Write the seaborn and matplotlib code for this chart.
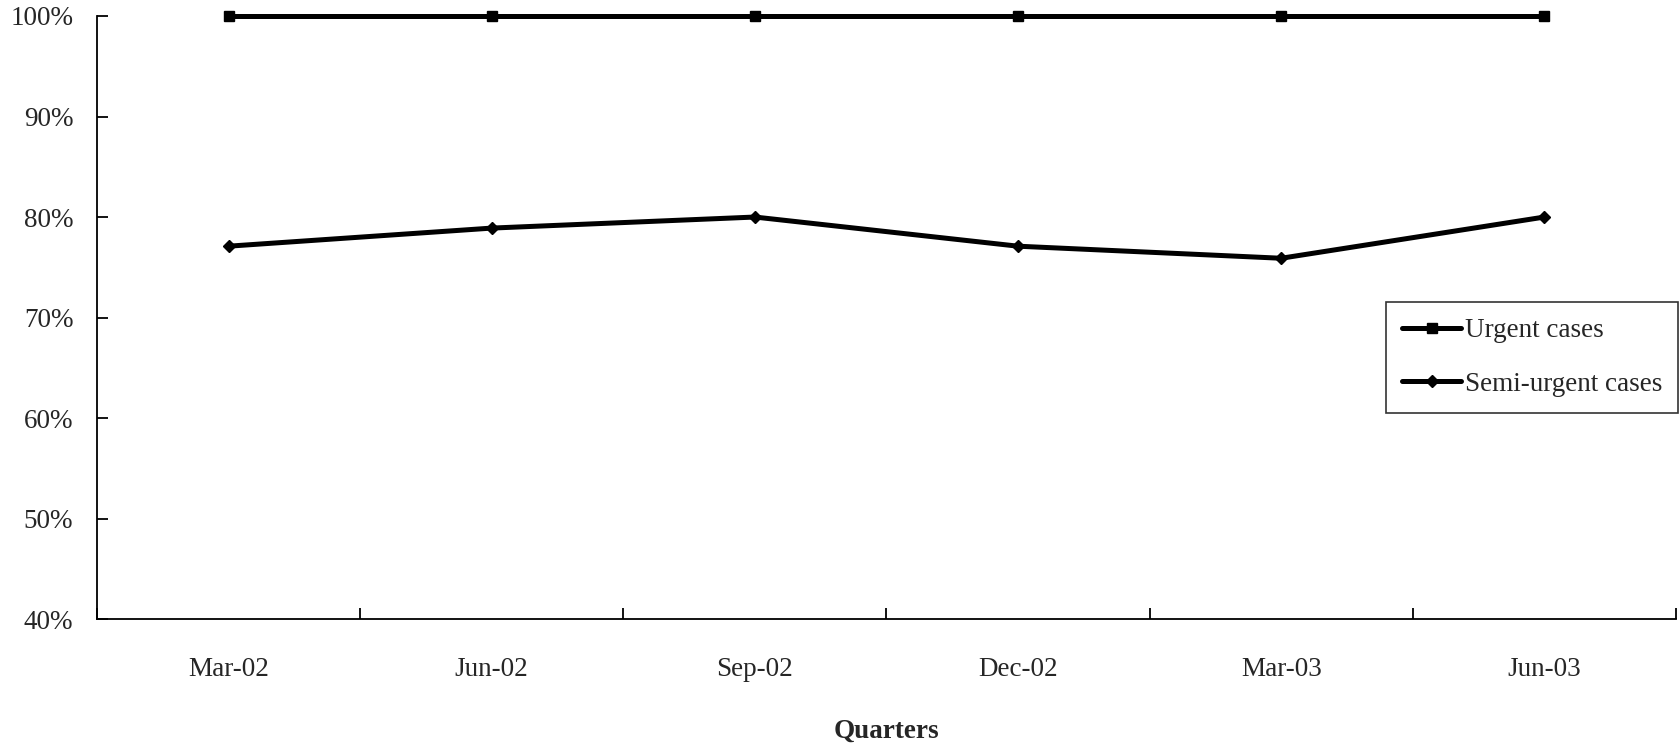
import pandas as pd
import matplotlib.pyplot as plt
import seaborn as sns
from matplotlib.ticker import FuncFormatter, FixedLocator

# Data (percent)
quarters = ['Mar-02', 'Jun-02', 'Sep-02', 'Dec-02', 'Mar-03', 'Jun-03']
urgent = [100, 100, 100, 100, 100, 100]
semi_urgent = [77.1, 78.9, 80.0, 77.1, 75.9, 80.0]

df = pd.DataFrame({'Quarter': quarters, 'Urgent cases': urgent, 'Semi-urgent cases': semi_urgent})

sns.set_style('white')
plt.rcParams['font.family'] = ['Liberation Serif', 'DejaVu Serif']

fig = plt.figure(figsize=(16.8, 7.46), dpi=100)
ax = fig.add_axes([0.0577, 0.170, 0.9399, 0.8086])

sns.lineplot(data=df, x='Quarter', y='Urgent cases', ax=ax, color='black', lw=3.6,
             marker='s', markersize=7, mec='black', mew=1, sort=False, label='Urgent cases',
             clip_on=False)
sns.lineplot(data=df, x='Quarter', y='Semi-urgent cases', ax=ax, color='black', lw=3.6,
             marker='D', markersize=6.5, mec='black', mew=1, sort=False, label='Semi-urgent cases',
             clip_on=False)

ax.set_xlim(-0.5, len(quarters) - 0.5)
ax.set_ylim(40, 100)
ax.set_yticks(range(40, 101, 10))
ax.yaxis.set_major_formatter(FuncFormatter(lambda v, p: f'{v:.0f}%'))

# category boundary ticks on the x axis
ax.xaxis.set_minor_locator(FixedLocator([i - 0.5 for i in range(len(quarters) + 1)]))
ax.tick_params(axis='x', which='major', length=0, pad=27, labelsize=19.5, bottom=True)
ax.tick_params(axis='x', which='minor', direction='in', length=8, width=1.3, color='black', bottom=True)
ax.tick_params(axis='y', direction='in', length=8, width=1.3, color='black', pad=17,
               labelsize=19.5, left=True)

for side in ['top', 'right']:
    ax.spines[side].set_visible(False)
for side in ['left', 'bottom']:
    ax.spines[side].set_color('black')
    ax.spines[side].set_linewidth(1.3)

ax.set_ylabel('')
ax.set_xlabel('Quarters', fontsize=19.5, fontweight='bold', labelpad=27)

leg = ax.legend(loc='upper right', bbox_to_anchor=(0.999, 0.595), bbox_transform=fig.transFigure,
                fontsize=19.5, frameon=True, fancybox=False, edgecolor='black', borderpad=0.6,
                labelspacing=1.05, handlelength=2.15, handletextpad=0.15, borderaxespad=0)
leg.get_frame().set_linewidth(1.2)

fig.savefig('out.png', dpi=100)
